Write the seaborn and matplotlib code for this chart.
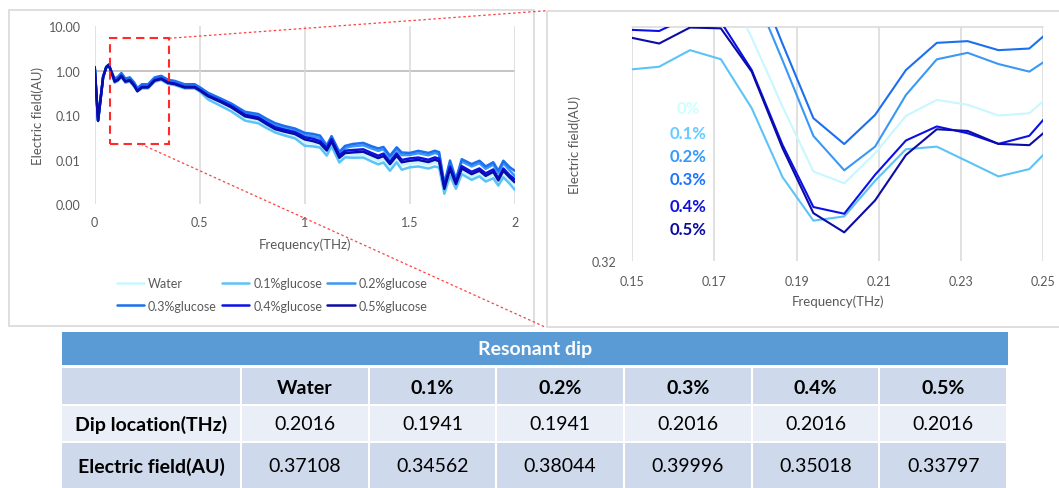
import numpy as np
import pandas as pd
import matplotlib
matplotlib.use("Agg")
import matplotlib.pyplot as plt
import seaborn as sns
from matplotlib.patches import Rectangle
from matplotlib.lines import Line2D
from matplotlib.ticker import FuncFormatter, NullLocator

# ---------------- data ----------------
series_names = ["Water", "0.1%glucose", "0.2%glucose", "0.3%glucose", "0.4%glucose", "0.5%glucose"]
series_colors = ["#C9F7FF", "#5CC3F7", "#3A98F5", "#1C6FEF", "#0A10E6", "#0B0BA6"]

freq = [0.000, 0.008, 0.016, 0.028, 0.040, 0.055, 0.067, 0.080, 0.095, 0.111,
        0.127, 0.146, 0.167, 0.188, 0.203, 0.225, 0.254, 0.286, 0.317, 0.349,
        0.381, 0.428, 0.476, 0.500, 0.540, 0.603, 0.650, 0.716, 0.779, 0.820,
        0.859, 0.900, 0.954, 1.000, 1.040, 1.073, 1.105, 1.128, 1.165, 1.192,
        1.230, 1.279, 1.318, 1.350, 1.375, 1.406, 1.438, 1.462, 1.500, 1.541,
        1.589, 1.620, 1.640, 1.665, 1.692, 1.720, 1.748, 1.795, 1.832, 1.862,
        1.898, 1.922, 1.946, 1.975, 2.000]

water = [1.42, 0.33, 0.078, 0.24, 0.74, 1.24, 1.38, 0.96, 0.611, 0.670,
         0.810, 0.611, 0.648, 0.497, 0.372, 0.454, 0.454, 0.648, 0.702, 0.572,
         0.540, 0.454, 0.454, 0.389, 0.265, 0.190, 0.144, 0.0884, 0.0763, 0.0570,
         0.0442, 0.0387, 0.0338, 0.0251, 0.0226, 0.0200, 0.0138, 0.0219, 0.0095, 0.0120,
         0.0125, 0.0129, 0.0108, 0.0093, 0.0103, 0.0068, 0.0105, 0.0075, 0.0081, 0.0084,
         0.0076, 0.0085, 0.0079, 0.0019, 0.0052, 0.0024, 0.0054, 0.0040, 0.0048, 0.0037,
         0.0046, 0.0029, 0.0048, 0.0034, 0.0027]

glucose_01 = [1.17, 0.29, 0.073, 0.225, 0.70, 1.17, 1.31, 0.90, 0.538, 0.589,
              0.713, 0.538, 0.570, 0.437, 0.347, 0.399, 0.399, 0.570, 0.618, 0.504,
              0.475, 0.399, 0.399, 0.342, 0.225, 0.159, 0.122, 0.0752, 0.0656, 0.0508,
              0.0408, 0.0353, 0.0300, 0.0205, 0.0198, 0.0186, 0.0123, 0.0199, 0.0086, 0.0112,
              0.0110, 0.0111, 0.0091, 0.0078, 0.0086, 0.0056, 0.0087, 0.0059, 0.0067, 0.0070,
              0.0063, 0.0070, 0.0066, 0.0017, 0.0043, 0.0022, 0.0047, 0.0035, 0.0042, 0.0032,
              0.0038, 0.0026, 0.0040, 0.0029, 0.0021]

glucose_02 = [1.21, 0.31, 0.076, 0.235, 0.72, 1.21, 1.37, 0.94, 0.640, 0.701,
              0.848, 0.640, 0.678, 0.520, 0.389, 0.475, 0.475, 0.678, 0.735, 0.599,
              0.565, 0.475, 0.475, 0.407, 0.305, 0.223, 0.174, 0.111, 0.0976, 0.0744,
              0.0593, 0.0520, 0.0450, 0.0356, 0.0333, 0.0306, 0.0189, 0.0306, 0.0132, 0.0182,
              0.0200, 0.0210, 0.0178, 0.0157, 0.0170, 0.0109, 0.0168, 0.0126, 0.0127, 0.0139,
              0.0125, 0.0141, 0.0131, 0.0026, 0.0085, 0.0034, 0.0091, 0.0070, 0.0083, 0.0062,
              0.0077, 0.0049, 0.0083, 0.0058, 0.0043]

glucose_03 = [1.23, 0.31, 0.077, 0.24, 0.73, 1.23, 1.38, 0.95, 0.668, 0.732,
              0.885, 0.668, 0.708, 0.543, 0.406, 0.496, 0.496, 0.708, 0.767, 0.625,
              0.590, 0.496, 0.496, 0.425, 0.318, 0.233, 0.183, 0.119, 0.106, 0.0818,
              0.0661, 0.0576, 0.0499, 0.0399, 0.0377, 0.0346, 0.0208, 0.0337, 0.0149, 0.0203,
              0.0225, 0.0237, 0.0200, 0.0178, 0.0192, 0.0122, 0.0189, 0.0144, 0.0141, 0.0157,
              0.0141, 0.0158, 0.0147, 0.0029, 0.0095, 0.0036, 0.0102, 0.0079, 0.0094, 0.0070,
              0.0087, 0.0056, 0.0094, 0.0068, 0.0056]

glucose_04 = [1.20, 0.30, 0.076, 0.23, 0.72, 1.20, 1.35, 0.93, 0.583, 0.639,
              0.773, 0.583, 0.618, 0.474, 0.354, 0.433, 0.433, 0.618, 0.670, 0.546,
              0.515, 0.433, 0.433, 0.371, 0.278, 0.206, 0.161, 0.102, 0.0886, 0.0676,
              0.0535, 0.0473, 0.0413, 0.0319, 0.0294, 0.0262, 0.0181, 0.0288, 0.0124, 0.0158,
              0.0164, 0.0170, 0.0141, 0.0122, 0.0136, 0.0089, 0.0138, 0.0098, 0.0106, 0.0111,
              0.0099, 0.0112, 0.0104, 0.0025, 0.0069, 0.0032, 0.0071, 0.0053, 0.0063, 0.0049,
              0.0060, 0.0038, 0.0063, 0.0045, 0.0036]

glucose_05 = [1.19, 0.30, 0.075, 0.23, 0.71, 1.19, 1.34, 0.92, 0.566, 0.62,
              0.75, 0.566, 0.60, 0.46, 0.344, 0.42, 0.42, 0.60, 0.65, 0.53,
              0.50, 0.42, 0.42, 0.36, 0.265, 0.194, 0.150, 0.094, 0.082, 0.062,
              0.0486, 0.043, 0.0375, 0.0285, 0.026, 0.0232, 0.0160, 0.0255, 0.0110, 0.0140,
              0.0145, 0.0150, 0.0125, 0.0108, 0.0120, 0.0079, 0.0122, 0.0087, 0.0094, 0.0098,
              0.0088, 0.0099, 0.0092, 0.0022, 0.0061, 0.0028, 0.0063, 0.0047, 0.0056, 0.0043,
              0.0053, 0.0034, 0.0056, 0.0040, 0.0031]

# zoomed region (0.15 - 0.25 THz)
zoom_freq = [0.1491, 0.1566, 0.1641, 0.1716, 0.1791, 0.1866, 0.1941, 0.2016,
             0.2091, 0.2166, 0.2241, 0.2316, 0.2391, 0.2466, 0.2541]
zoom_water = [0.56, 0.55, 0.57, 0.55, 0.49, 0.4296, 0.3796, 0.37108,
              0.3930, 0.4220, 0.4351, 0.4311, 0.4223, 0.4242, 0.4467]
zoom_01 = [0.4609, 0.4635, 0.4784, 0.4702, 0.4283, 0.3755, 0.34562, 0.3484,
           0.3729, 0.3960, 0.3980, 0.3869, 0.3760, 0.3813, 0.4048]
zoom_02 = [0.58, 0.57, 0.59, 0.58, 0.54, 0.4692, 0.4062, 0.38044,
           0.3980, 0.4392, 0.4701, 0.4760, 0.4659, 0.4592, 0.4775]
zoom_03 = [0.60, 0.59, 0.61, 0.60, 0.56, 0.4842, 0.4202, 0.39996,
           0.4228, 0.4606, 0.4851, 0.4867, 0.4784, 0.4799, 0.505]
zoom_04 = [0.4974, 0.4962, 0.51, 0.505, 0.4606, 0.3993, 0.3547, 0.35018,
           0.3772, 0.4027, 0.4136, 0.4083, 0.4001, 0.4063, 0.4345]
zoom_05 = [0.4905, 0.4845, 0.4995, 0.4987, 0.4592, 0.3968, 0.3506, 0.33797,
           0.3592, 0.3917, 0.4114, 0.4101, 0.4001, 0.3991, 0.4197]

zoom_labels = ["0%", "0.1%", "0.2%", "0.3%", "0.4%", "0.5%"]

table_title = "Resonant dip"
table_cols = ["Water", "0.1%", "0.2%", "0.3%", "0.4%", "0.5%"]
row_labels = ["Dip location(THz)", "Electric field(AU)"]
dip_location = [0.2016, 0.1941, 0.1941, 0.2016, 0.2016, 0.2016]
dip_field = [0.37108, 0.34562, 0.38044, 0.39996, 0.35018, 0.33797]


def long_df(x, cols):
    frames = [pd.DataFrame({"f": x, "E": v, "series": n}) for n, v in zip(series_names, cols)]
    return pd.concat(frames, ignore_index=True)


df_full = long_df(freq, [water, glucose_01, glucose_02, glucose_03, glucose_04, glucose_05])
df_zoom = long_df(zoom_freq, [zoom_water, zoom_01, zoom_02, zoom_03, zoom_04, zoom_05])
palette = dict(zip(series_names, series_colors))

# ---------------- style ----------------
sns.set_theme(style="white")
plt.rcParams["font.family"] = ["Lato", "DejaVu Sans"]
TXT = "#595959"
GRID = "#D9D9D9"

W, H = 1059, 489
fig = plt.figure(figsize=(W / 100, H / 100), dpi=100)
fig.patch.set_facecolor("white")


def fig_rect(x0, y0, x1, y1):
    return [x0 / W, 1 - y1 / H, (x1 - x0) / W, (y1 - y0) / H]


# background overlay in pixel coordinates (panel borders)
bg = fig.add_axes([0, 0, 1, 1], zorder=0)
bg.set_xlim(0, W)
bg.set_ylim(H, 0)
bg.axis("off")
bg.add_patch(Rectangle((9, 11), 525, 316, fill=False, ec=GRID, lw=1.2))
bg.add_patch(Rectangle((547, 12), 530, 316, fill=False, ec=GRID, lw=1.2))

# ---------------- left overview chart ----------------
ax1 = fig.add_axes(fig_rect(94.7, 27.3, 514.7, 205), zorder=1)
ax1.set_facecolor("none")
sns.lineplot(data=df_full, x="f", y="E", hue="series", hue_order=series_names,
             palette=palette, estimator=None, linewidth=1.8, legend=False, ax=ax1)
ax1.set_yscale("log")
ax1.set_xlim(0, 2)
ax1.set_ylim(0.001, 10)
ax1.set_yticks([0.001, 0.01, 0.1, 1, 10])
ax1.yaxis.set_minor_locator(NullLocator())
ax1.yaxis.set_major_formatter(FuncFormatter(lambda v, p: f"{v:.2f}"))
ax1.set_xticks([0, 0.5, 1, 1.5, 2])
ax1.set_xticklabels(["0", "0.5", "1", "1.5", "2"])
for s in ax1.spines.values():
    s.set_visible(False)
ax1.grid(axis="x", color=GRID, lw=1.1)
ax1.grid(axis="y", visible=False)
ax1.set_axisbelow(True)
ax1.axhline(1, color="#BFBFBF", lw=1.3, zorder=0.5)
ax1.tick_params(length=0, labelsize=9, labelcolor=TXT)
ax1.tick_params(axis="y", pad=10)
ax1.tick_params(axis="x", pad=9)
ax1.set_xlabel("Frequency(THz)", fontsize=9.5, color=TXT)
ax1.set_ylabel("Electric field(AU)", fontsize=9.5, color=TXT)
ax1.xaxis.set_label_coords(0.5, -0.19)
ax1.yaxis.set_label_coords(-0.121, 0.5)

# red dashed zoom box
ax1.add_patch(Rectangle((0.074, 0.0223), 0.28, 5.37 - 0.0223, fill=False,
                        ec="#FF2A2A", lw=1.5, ls=(0, (4, 2.5)), zorder=5, clip_on=False))

# legend
handles = [Line2D([], [], color=c, lw=1.8) for c in series_colors]
order = [0, 3, 1, 4, 2, 5]
fig.legend([handles[i] for i in order], [series_names[i] for i in order],
           loc="center", bbox_to_anchor=(272 / W, 1 - 295.5 / H), ncol=3, frameon=False,
           fontsize=9, handlelength=2.2, handletextpad=0.3, columnspacing=0.4,
           labelspacing=0.85, labelcolor=TXT)

# ---------------- right zoom chart ----------------
ax2 = fig.add_axes(fig_rect(632, 28, 1043.3, 262), zorder=1)
ax2.set_facecolor("none")
sns.lineplot(data=df_zoom, x="f", y="E", hue="series", hue_order=series_names,
             palette=palette, estimator=None, linewidth=1.5, legend=False, ax=ax2)
ax2.set_yscale("log")
ax2.set_xlim(0.15, 0.25)
ax2.set_ylim(0.32, 0.5)
ax2.set_yticks([0.32])
ax2.yaxis.set_minor_locator(NullLocator())
ax2.set_yticklabels(["0.32"])
xt2 = [0.15, 0.17, 0.19, 0.21, 0.23, 0.25]
ax2.set_xticks(xt2)
ax2.set_xticklabels([f"{v:.2f}" for v in xt2])
for s in ax2.spines.values():
    s.set_visible(False)
ax2.grid(axis="x", color=GRID, lw=1.1)
ax2.grid(axis="y", visible=False)
ax2.set_axisbelow(True)
ax2.axhline(0.5, color=GRID, lw=1.1, zorder=0.5, clip_on=False)
ax2.tick_params(length=0, labelsize=9, labelcolor=TXT)
ax2.tick_params(axis="y", pad=11)
ax2.tick_params(axis="x", pad=10)
ax2.set_xlabel("Frequency(THz)", fontsize=9.5, color=TXT)
ax2.set_ylabel("Electric field(AU)", fontsize=9.5, color=TXT)
ax2.xaxis.set_label_coords(0.5, -0.142)
ax2.yaxis.set_label_coords(-0.124, 0.5)

label_y = [0.655, 0.548, 0.448, 0.350, 0.236, 0.137]
label_colors = ["#CCFFFF", "#66CCFF", "#3399FF", "#1A75FF", "#1010E0", "#0B0BA0"]
for lab, yy, c in zip(zoom_labels, label_y, label_colors):
    ax2.text(0.136, yy, lab, transform=ax2.transAxes, ha="center", va="center",
             color=c, fontsize=12, fontweight="bold")

# ---------------- red dotted connector lines ----------------
inv = fig.transFigure.inverted()
p_top = inv.transform(ax1.transData.transform((0.354, 5.37)))
p_bot = inv.transform(ax1.transData.transform((0.22, 0.0223)))
fig.add_artist(Line2D([p_top[0], 546.7 / W], [p_top[1], 1 - 11.7 / H], transform=fig.transFigure,
                      color="#FF4040", lw=0.9, ls=(0, (2, 2)), zorder=6))
fig.add_artist(Line2D([p_bot[0], 545 / W], [p_bot[1], 1 - 328 / H], transform=fig.transFigure,
                      color="#FF4040", lw=0.9, ls=(0, (2, 2)), zorder=6))

# ---------------- table ----------------
tb = fig.add_axes([0, 0, 1, 1], zorder=3)
tb.set_xlim(0, W)
tb.set_ylim(H, 0)
tb.axis("off")
tx0, tx1 = 62, 1008
tb.add_patch(Rectangle((tx0, 333), tx1 - tx0, 33, color="#5B9BD5", lw=0))
tb.text((tx0 + tx1) / 2, 350, table_title, color="white", fontsize=14, fontweight="bold",
        ha="center", va="center")

first_w = 178
col_x = [tx0] + [tx0 + first_w + 2 + i * ((tx1 - tx0 - first_w - 2) / 6) for i in range(6)]
col_w = [first_w] + [(tx1 - tx0 - first_w - 2) / 6 - 2] * 6
row_top = [368.5, 406.5, 443.5]
row_h = [36, 35, 46]
row_col = ["#CFD9EC", "#E9EEF7", "#CFD9EC"]
row_text_y = [388, 424.5, 467]
rows = [[""] + table_cols,
        [row_labels[0]] + [f"{v:.4f}" for v in dip_location],
        [row_labels[1]] + [f"{v:.5f}" for v in dip_field]]
for r in range(3):
    for c in range(7):
        tb.add_patch(Rectangle((col_x[c], row_top[r]), col_w[c], row_h[r], color=row_col[r], lw=0))
        txt = rows[r][c]
        if txt:
            bold = (r == 0) or (c == 0)
            tb.text(col_x[c] + col_w[c] / 2, row_text_y[r], txt, ha="center", va="center",
                    fontsize=14, color="black", fontweight="bold" if bold else "normal")

fig.savefig("out.png", dpi=100, facecolor="white")
